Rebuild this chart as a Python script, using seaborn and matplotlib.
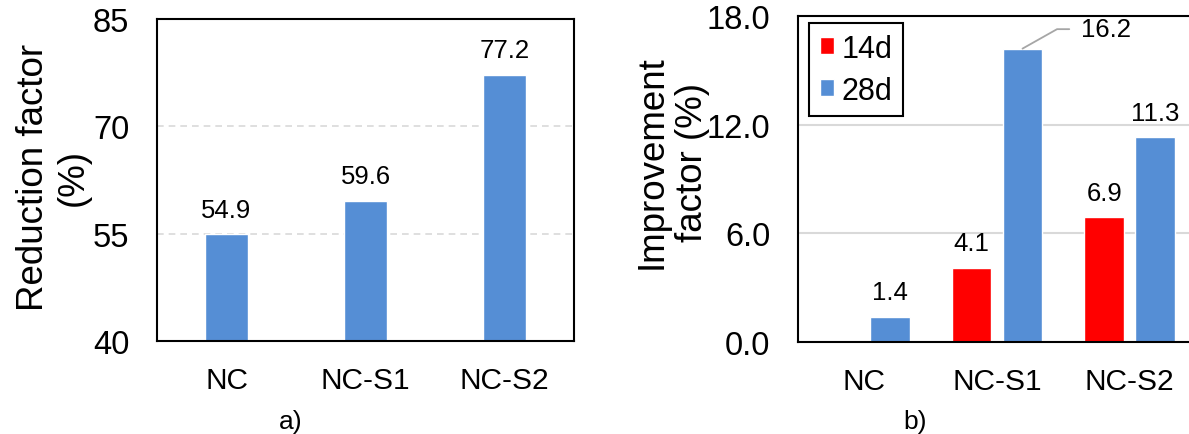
import numpy as np
import pandas as pd
import matplotlib.pyplot as plt
import seaborn as sn

# data
mixes = ["NC", "NC-S1", "NC-S2"]
reduction = [54.9, 59.6, 77.2]
ages = ["14d", "28d"]
improve_14d = [np.nan, 4.1, 6.9]
improve_28d = [1.4, 16.2, 11.3]

blue = "#558ED5"
red = "#FF0000"
grid_col = "#D9D9D9"

sn.set_style("white")
plt.rcParams["font.family"] = ["Liberation Sans", "DejaVu Sans"]
plt.rcParams["text.color"] = "black"
plt.rcParams["axes.labelcolor"] = "black"

W, H = 1189, 435
fig = plt.figure(figsize=(W / 100, H / 100), dpi=100)
ax1 = fig.add_axes([157 / W, 93 / H, 417 / W, 322 / H])
ax2 = fig.add_axes([798 / W, 92 / H, 398 / W, 326 / H])

# ---- a) reduction factor
sn.barplot(x=mixes, y=reduction, color=blue, width=0.316, saturation=1, ax=ax1)
ax1.set_xlim(-0.5, 2.5)
ax1.set_ylim(40, 85)
ax1.set_yticks([40, 55, 70, 85])
ax1.set_axisbelow(True)
ax1.yaxis.grid(True, color=grid_col, lw=1.2, ls=(0, (4, 3)))
ax1.set_xticks([0.5, 1.5], minor=True)
ax1.tick_params(axis="x", which="minor", direction="in", length=7, width=1.3, color="black")
for c in ax1.containers:
    ax1.bar_label(c, fmt="%.1f", padding=9, fontsize=18.5, color="black")
ax1.set_ylabel("Reduction factor\n(%)", fontsize=26.5)
ax1.yaxis.set_label_coords(-0.158, 0.51)

# ---- b) improvement factor
df = pd.DataFrame({
    "mix": mixes * 2,
    "age": [ages[0]] * 3 + [ages[1]] * 3,
    "value": improve_14d + improve_28d,
})
sn.barplot(data=df, x="mix", y="value", hue="age", palette=[red, blue],
           width=0.77, gap=0.22, saturation=1, ax=ax2)
ax2.set_xlim(-0.5, 2.5)
ax2.set_ylim(0, 18)
ax2.set_yticks([0, 6, 12, 18])
ax2.set_yticklabels([f"{t:.1f}" for t in [0, 6, 12, 18]])
ax2.set_axisbelow(True)
ax2.yaxis.grid(True, color=grid_col, lw=1.5)

top = max(improve_28d)
for cont in ax2.containers:
    for bar in cont:
        h = bar.get_height()
        if np.isnan(h):
            continue
        xc = bar.get_x() + bar.get_width() / 2
        if h == top:
            ax2.annotate(f"{h:.1f}", xy=(xc, h), xytext=(42, 14), textcoords="offset points",
                         ha="left", va="center", fontsize=18.5, color="black",
                         arrowprops=dict(arrowstyle="-", color="#A6A6A6", lw=1.3, shrinkA=6, shrinkB=0,
                                         connectionstyle="angle,angleA=0,angleB=29.4"))
        else:
            ax2.annotate(f"{h:.1f}", xy=(xc, h), xytext=(0, 9), textcoords="offset points",
                         ha="center", va="bottom", fontsize=18.5, color="black")

handles, labels = ax2.get_legend_handles_labels()
ax2.get_legend().remove()
leg = ax2.legend(handles, labels, loc="upper left", bbox_to_anchor=(0.028, 0.979), borderaxespad=0,
                 fontsize=22, fancybox=False, framealpha=1, edgecolor="black",
                 handlelength=0.47, handleheight=0.47, handletextpad=0.25,
                 borderpad=0.35, labelspacing=0.4, labelcolor="black")
leg.get_frame().set_linewidth(1.5)
ax2.set_ylabel("Improvement\nfactor (%)", fontsize=26.5)
ax2.yaxis.set_label_coords(-0.221, 0.555)

for ax in (ax1, ax2):
    ax.set_xlabel("")
    ax.tick_params(axis="y", direction="in", length=7, width=1.3, color="black",
                   pad=20, labelsize=23.5, labelcolor="black")
    ax.tick_params(axis="x", which="major", length=0, pad=18, labelsize=21.5, labelcolor="black")
    for s in ax.spines.values():
        s.set_color("black")
        s.set_linewidth(1.5)

fig.text(291 / W, 1 - 422 / H, "a)", ha="center", va="center", fontsize=19)
fig.text(915 / W, 1 - 422 / H, "b)", ha="center", va="center", fontsize=19)

fig.savefig("out.png", dpi=100)
